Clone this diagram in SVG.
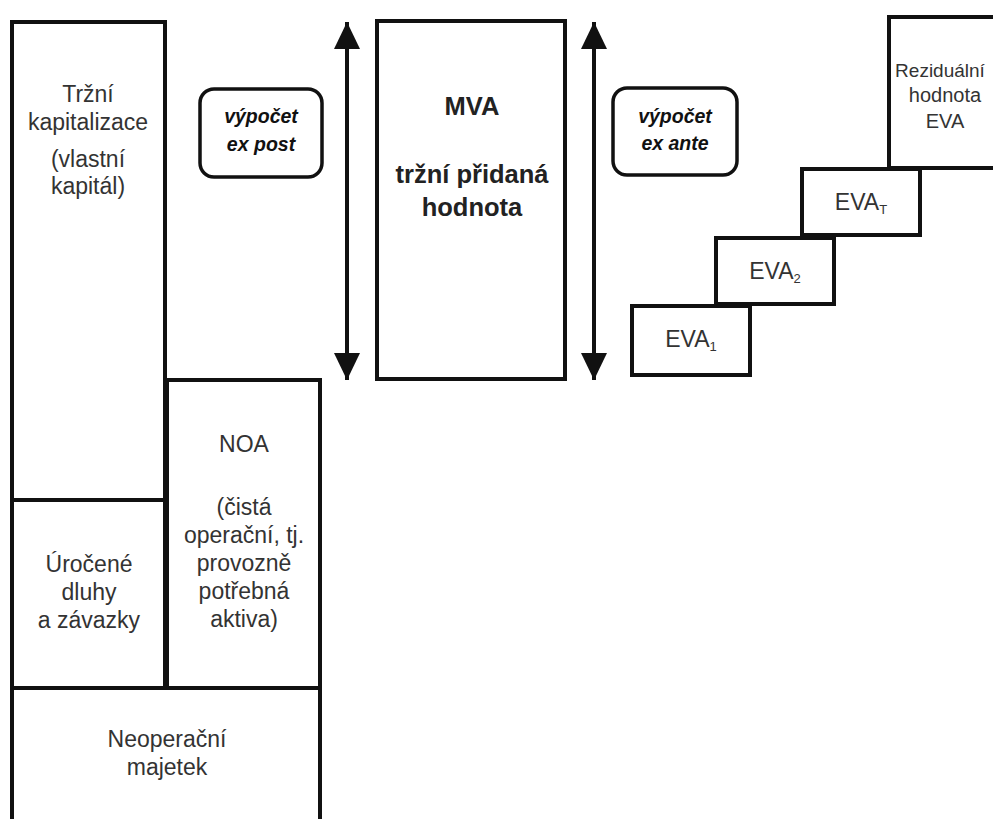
<svg xmlns="http://www.w3.org/2000/svg" width="993" height="819" viewBox="0 0 993 819">
<style>
.box{fill:#fff;stroke:#111;stroke-width:4}
.rbox{fill:#fff;stroke:#111;stroke-width:3.5}
.t{font-family:"Liberation Sans",Arial,sans-serif;font-size:23px;fill:#333;text-anchor:middle}
.b{font-family:"Liberation Sans",Arial,sans-serif;font-size:25.5px;font-weight:bold;fill:#222;text-anchor:middle}
.bi{font-family:"Liberation Sans",Arial,sans-serif;font-size:19.5px;font-weight:bold;font-style:italic;fill:#111;text-anchor:middle}
.s{font-family:"Liberation Sans",Arial,sans-serif;font-size:20px;fill:#333;text-anchor:middle}
.sub{font-size:13px}
.arr{stroke:#111;stroke-width:4;fill:none;marker-start:url(#ah);marker-end:url(#ah)}
</style>
<defs>
<marker id="ah" markerUnits="userSpaceOnUse" markerWidth="28" markerHeight="28" viewBox="0 0 28 28" refX="27" refY="14" orient="auto-start-reverse">
<path d="M0,1 L27,14 L0,27 Z" fill="#111"/>
</marker>
</defs>
<rect width="993" height="819" fill="#fff"/>
<g id="connectors">
<line class="arr" x1="347" y1="22" x2="347" y2="380"/>
<line class="arr" x1="594" y1="22" x2="594" y2="380"/>
</g>
<g id="trzni-kapitalizace">
<rect class="box" x="12" y="22" width="153" height="478"/>
<text class="t" x="88" y="102">Tržní</text>
<text class="t" x="88" y="130">kapitalizace</text>
<text class="t" x="88" y="167">(vlastní</text>
<text class="t" x="88" y="194">kapitál)</text>
</g>
<g id="urocene-dluhy">
<rect class="box" x="12" y="500" width="153" height="188"/>
<text class="t" x="89" y="572">Úročené</text>
<text class="t" x="89" y="600">dluhy</text>
<text class="t" x="89" y="628">a závazky</text>
</g>
<g id="noa">
<rect class="box" x="167" y="380" width="153" height="308"/>
<text class="t" x="244" y="452">NOA</text>
<text class="t" x="244" y="515">(čistá</text>
<text class="t" x="244" y="543">operační, tj.</text>
<text class="t" x="244" y="571">provozně</text>
<text class="t" x="244" y="599">potřebná</text>
<text class="t" x="244" y="627">aktiva)</text>
</g>
<g id="neoperacni-majetek">
<rect class="box" x="12" y="688" width="308" height="150"/>
<text class="t" x="167" y="747">Neoperační</text>
<text class="t" x="167" y="775">majetek</text>
</g>
<g id="ex-post">
<rect class="rbox" x="200" y="89" width="122" height="88" rx="14"/>
<text class="bi" x="261" y="123">výpočet</text>
<text class="bi" x="261" y="151">ex post</text>
</g>
<g id="mva">
<rect class="box" x="377" y="21" width="188" height="358"/>
<text class="b" x="472" y="115">MVA</text>
<text class="b" x="472" y="183">tržní přidaná</text>
<text class="b" x="472" y="216">hodnota</text>
</g>
<g id="ex-ante">
<rect class="rbox" x="613" y="88" width="124" height="87" rx="14"/>
<text class="bi" x="675" y="123">výpočet</text>
<text class="bi" x="675" y="150">ex ante</text>
</g>
<g id="eva1">
<rect class="box" x="632" y="306" width="118" height="69"/>
<text class="t" x="691" y="347">EVA<tspan class="sub" dy="4">1</tspan></text>
</g>
<g id="eva2">
<rect class="box" x="716" y="238" width="118" height="66"/>
<text class="t" x="775" y="279">EVA<tspan class="sub" dy="4">2</tspan></text>
</g>
<g id="evaT">
<rect class="box" x="802" y="169" width="118" height="66"/>
<text class="t" x="861" y="210">EVA<tspan class="sub" dy="4">T</tspan></text>
</g>
<g id="rezidualni">
<rect class="box" x="889" y="17" width="120" height="151"/>
<text class="s" x="940" y="77" style="font-size:19px">Reziduální</text>
<text class="s" x="945" y="102">hodnota</text>
<text class="s" x="945" y="128">EVA</text>
</g>
</svg>
